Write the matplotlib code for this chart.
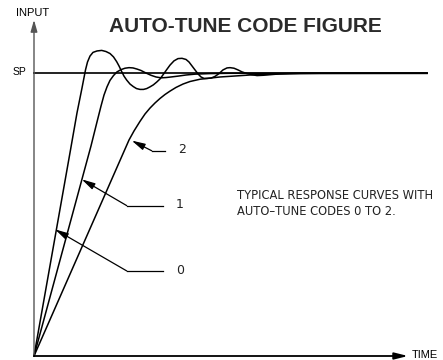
import matplotlib
matplotlib.use('Agg')
import matplotlib.pyplot as plt

# response curves: time (arbitrary units), input in % of SP
t_code0 = [0, 3.65, 4.3, 4.8, 5.15, 5.35, 5.6, 5.9, 6.3, 6.77, 7.2, 7.6, 7.95, 8.27,
           8.5, 8.77, 9.0, 9.27, 9.6, 9.93, 10.25, 10.6, 10.95, 11.27, 11.6, 11.93,
           12.27, 12.6, 12.93, 13.27, 13.6, 14.0, 14.4, 14.8, 15.2, 15.5, 15.8, 16.1,
           16.4, 16.7, 17.0, 17.3, 17.7, 18.1, 18.5, 18.9, 19.3, 19.6, 20.0, 20.4,
           20.8, 21.3, 21.8, 22.3, 22.9, 23.6, 24.6, 26.6, 39.3]
y_code0 = [0, 72.9, 86.0, 94.8, 101.2, 104.0, 106.1, 107.4, 107.9, 108.1, 107.7, 107.0,
           105.8, 104.1, 102.6, 100.6, 99.0, 97.6, 96.2, 95.3, 94.6, 94.3, 94.3, 94.6,
           95.2, 95.9, 96.9, 98.0, 99.6, 101.3, 102.9, 104.4, 105.2, 105.3, 104.9,
           104.0, 102.6, 101.2, 99.8, 98.7, 98.2, 98.2, 98.3, 98.9, 99.9, 101.2, 101.9,
           102.0, 101.8, 101.2, 100.5, 99.9, 99.5, 99.2, 99.3, 99.5, 99.8, 100.0, 100]

t_code1 = [0, 5.7, 6.3, 6.7, 7.0, 7.3, 7.6, 7.95, 8.3, 8.7, 9.1, 9.5, 9.9, 10.3, 10.7,
           11.2, 11.7, 12.2, 12.7, 13.2, 13.7, 14.4, 15.2, 16.1, 17.6, 19.6, 39.3]
y_code1 = [0, 74.3, 82.8, 88.4, 92.3, 95.2, 97.5, 99.2, 100.5, 101.3, 101.8, 102.0,
           101.9, 101.5, 101.0, 100.1, 99.3, 98.7, 98.4, 98.5, 98.7, 99.0, 99.4, 99.7,
           99.9, 100, 100]

t_code2 = [0, 9.5, 10.0, 10.6, 11.1, 11.6, 12.1, 12.6, 13.1, 13.6, 14.2, 14.9, 15.6,
           16.6, 17.6, 18.6, 19.9, 21.6, 23.3, 25.6, 28.6, 39.3]
y_code2 = [0, 76.4, 79.6, 83.0, 85.6, 87.7, 89.5, 91.1, 92.5, 93.7, 95.0, 96.2, 97.1,
           97.9, 98.3, 98.7, 99.0, 99.4, 99.65, 99.86, 99.96, 100]

codes = ['0', '1', '2']
setpoint = 100
t_end = 39.3

fig = plt.figure(figsize=(4.43, 3.6), dpi=100)
ax = fig.add_axes([0, 0, 1, 1])
ax.set_xlim(-3.4, 40.9)
ax.set_ylim(-1.415, 125.93)
ax.axis('off')

# axes with arrows
ax.annotate('', xy=(0, 118.9), xytext=(0, 0),
            arrowprops=dict(arrowstyle='-|>,head_length=0.7,head_width=0.2',
                            color='#555555', lw=1.0, shrinkA=0, shrinkB=0))
ax.annotate('', xy=(37.4, 0), xytext=(0, 0),
            arrowprops=dict(arrowstyle='-|>,head_length=0.8,head_width=0.2',
                            color='black', lw=1.3, shrinkA=0, shrinkB=0))
ax.plot([0, t_end], [setpoint, setpoint], color='#222222', lw=1.4)

for tt, yy in [(t_code0, y_code0), (t_code1, y_code1), (t_code2, y_code2)]:
    ax.plot(tt, yy, color='black', lw=1.1, solid_joinstyle='round')

# leader arrows with labels
tips = [(2.1, 44.8), (4.77, 62.5), (9.77, 76.2)]
elbows = [(9.27, 30.1), (9.27, 53.2), (11.77, 72.6)]
ends = [12.9, 12.9, 13.1]
for code, tip, elb, xe in zip(codes, tips, elbows, ends):
    ax.plot([elb[0], xe], [elb[1], elb[1]], color='black', lw=0.9)
    ax.annotate('', xy=tip, xytext=elb,
                arrowprops=dict(arrowstyle='-|>,head_length=0.8,head_width=0.2',
                                color='black', lw=0.9, shrinkA=0, shrinkB=0))
    ax.text(xe + 1.3, elb[1] + 0.3, code, fontsize=9, family='DejaVu Sans',
            ha='left', va='center', color='#222222')

ax.text(-0.15, 121.3, 'INPUT', fontsize=8, family='Liberation Sans',
        ha='center', va='center')
ax.text(-0.75, 100.6, 'SP', fontsize=7.5, family='Liberation Sans',
        ha='right', va='center')
ax.text(37.8, 0.4, 'TIME', fontsize=8, family='Liberation Sans',
        ha='left', va='center')

ax.text(20.27, 54.0, 'TYPICAL RESPONSE CURVES WITH\nAUTO\u2013TUNE CODES 0 TO 2.',
        fontsize=8.3, family='DejaVu Sans', ha='left', va='center',
        color='#222222', linespacing=1.25)

fig.text(0.554, 0.925, 'AUTO-TUNE CODE FIGURE', fontsize=15, fontweight='bold',
         family='Liberation Sans', ha='center', va='center', color='#2b2b2b')

fig.savefig('out.png', dpi=100)
